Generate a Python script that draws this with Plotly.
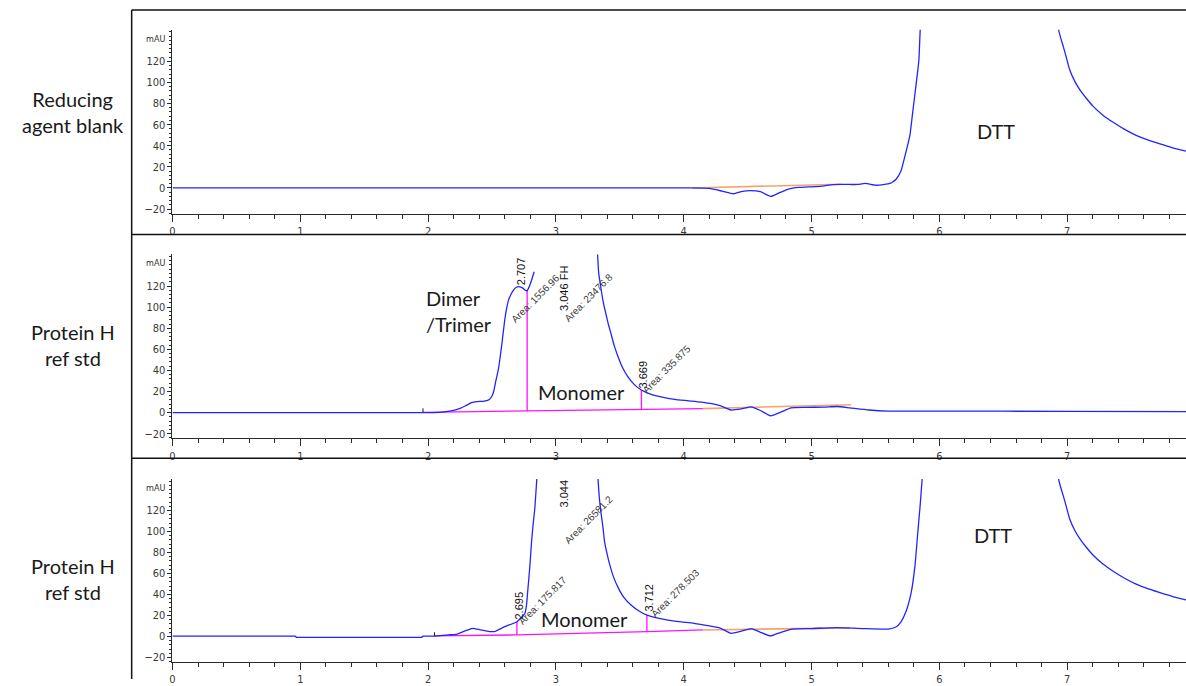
import plotly.graph_objects as go

# ---------------- chromatogram data (time in min, signal in mAU) ----------------
# Reducing agent blank
blank_t = [0.0, 4.05, 4.2, 4.3, 4.39, 4.45, 4.52, 4.6, 4.68, 4.75, 4.82, 4.9, 5.03, 5.1,
           5.15, 5.22, 5.3, 5.36, 5.42, 5.5, 5.56, 5.62, 5.64, 5.66, 5.7, 5.72, 5.745, 5.77,
           5.79, 5.81, 5.83, 5.84, 5.85, 5.86, None,
           6.925, 6.935, 6.95, 6.97, 6.995, 7.02, 7.06, 7.1, 7.15, 7.2, 7.28, 7.36, 7.45,
           7.54, 7.63, 7.72, 7.82, 7.93]
blank_mau = [0.0, 0.0, -0.5, -3.0, -5.5, -3.5, -2.5, -3.5, -8.0, -4.5, -1.0, 0.5, 1.2, 2.0,
             3.0, 3.3, 3.3, 3.3, 4.3, 2.6, 3.1, 4.5, 6.2, 8.0, 16.0, 25.0, 37.0, 50.0,
             70.0, 90.0, 110.0, 121.0, 149.0, 170.0, None,
             165.0, 149.0, 142.0, 134.0, 123.0, 112.0, 101.0, 93.0, 85.0, 77.8, 69.0, 62.2, 55.5,
             49.8, 45.5, 42.0, 38.3, 34.8]

# Protein H ref std (upper)
std1_t = [0.0, 1.96, 2.09, 2.18, 2.25, 2.29, 2.34, 2.38, 2.44, 2.48, 2.5, 2.515, 2.53,
          2.55, 2.575, 2.6, 2.615, 2.63, 2.65, 2.67, 2.69, 2.707, 2.725, 2.744, 2.76,
          2.775, 2.79, 2.81, 2.83, None,
          3.32, 3.335, 3.345, 3.355, 3.37, 3.39, 3.41, 3.43, 3.455, 3.485, 3.52, 3.56,
          3.61, 3.669, 3.72, 3.77, 3.85, 3.93, 4.03, 4.135, 4.22, 4.29,
          4.37, 4.45, 4.53, 4.6, 4.68, 4.76, 4.84, 4.95, 5.1, 5.2, 5.3, 5.45, 5.6,
          6.0, 7.0, 7.93]
std1_mau = [0.0, 0.0, 0.3, 1.6, 4.0, 6.3, 9.4, 10.5, 11.0, 12.5, 15.7, 21.0, 30.0,
            40.9, 62.9, 88.0, 99.0, 106.9, 112.5, 116.3, 118.8, 119.4, 119.0, 117.8, 116.0,
            115.6, 119.0, 125.7, 133.5, None,
            165.0, 132.0, 124.0, 116.0, 105.0, 94.3, 84.0, 75.4, 64.0, 53.4, 43.0, 34.6,
            27.0, 21.4, 18.5, 16.4, 14.2, 12.6, 11.3, 10.0, 8.5, 6.3,
            2.5, 3.5, 5.5, 2.0, -3.0, 0.5, 4.5, 5.0, 5.2, 5.8, 4.5, 2.5, 1.5,
            1.5, 1.2, 1.0]

# Protein H ref std (lower, with reducing agent)
std2_t = [0.0, 0.96, 0.97, 1.95, 1.96, 2.05, 2.16, 2.22, 2.29, 2.35, 2.41, 2.48, 2.52,
          2.6, 2.695, 2.757, 2.77, 2.78, 2.795, 2.81, 2.822, 2.835, 2.85, 2.86, None,
          3.32, 3.33, 3.34, 3.355, 3.37, 3.38, 3.4, 3.42, 3.45, 3.485, 3.53, 3.59, 3.65,
          3.712, 3.79, 3.875, 3.98, 4.08, 4.2, 4.29,
          4.37, 4.45, 4.53, 4.6, 4.68, 4.76, 4.85, 5.0, 5.2, 5.4, 5.6, 5.66, 5.7,
          5.74, 5.78, 5.81, 5.83, 5.85, 5.865, 5.88, None,
          6.925, 6.935, 6.95, 6.97, 6.995, 7.02, 7.06, 7.1, 7.15, 7.2, 7.28, 7.36, 7.45,
          7.54, 7.63, 7.72, 7.82, 7.93]
std2_mau = [0.3, 0.3, -0.8, -0.8, 0.3, 0.3, 1.5, 2.1, 5.3, 7.8, 6.3, 4.7, 4.7,
            9.4, 14.0, 21.9, 30.0, 43.8, 65.0, 90.9, 107.0, 122.0, 149.0, 165.0, None,
            165.0, 149.0, 132.0, 116.0, 102.0, 90.9, 79.0, 69.0, 57.0, 47.0, 37.5, 29.7, 24.2,
            20.3, 17.6, 15.6, 13.9, 12.5, 10.0, 7.8,
            3.0, 5.0, 7.5, 4.0, 0.5, 4.0, 7.0, 7.5, 8.5, 7.5, 7.0, 9.0, 14.0,
            24.0, 42.0, 68.0, 97.0, 125.0, 149.0, 170.0, None,
            165.0, 149.0, 142.0, 134.0, 123.0, 112.0, 101.0, 93.0, 85.0, 77.8, 69.0, 62.2, 55.5,
            49.8, 45.5, 42.0, 38.3, 34.8]

# integration baselines (magenta) and later baseline segments (orange)
std1_base_t = [1.96, 2.775, 3.669, 4.15]
std1_base_mau = [0.3, 1.6, 2.5, 3.8]
std2_base_t = [2.05, 2.695, 3.712, 4.15]
std2_base_mau = [0.5, 1.5, 4.7, 6.2]

blank_seg_t = [4.07, 5.23]
blank_seg_mau = [0.0, 3.5]
std1_seg_t = [4.15, 5.31]
std1_seg_mau = [3.8, 7.5]
std2_seg_t = [4.15, 5.3]
std2_seg_mau = [6.2, 8.2]

# peak drop lines (time, baseline level, signal level)
std1_drop_t = [2.775, 3.669]
std1_drop_lo = [1.6, 2.5]
std1_drop_hi = [115.6, 21.4]
std2_drop_t = [2.695, 3.712]
std2_drop_lo = [1.5, 4.7]
std2_drop_hi = [14.0, 20.3]

# integration start markers
std1_start_t = 1.96
std2_start_t = 2.05

# peak tables
std1_rt = [2.707, 3.046, 3.669]
std1_rt_text = ["2.707", "3.046 FH", "3.669"]
std1_area = [1556.96, 23476.8, 335.875]
std2_rt = [2.695, 3.044, 3.712]
std2_rt_text = ["2.695", "3.044", "3.712"]
std2_area = [175.817, 26581.2, 278.503]

row_titles = ["Reducing<br>agent blank", "Protein H<br>ref std", "Protein H<br>ref std"]
y_ticks = [-20, 0, 20, 40, 60, 80, 100, 120]

# ---------------- styling ----------------
BLUE = "#2323ff"
MAGENTA = "#ff10ff"
ORANGE = "#f4a46a"
AX = "#2a2a2a"
TICK_FONT = dict(family="Liberation Sans Narrow, Arial Narrow, DejaVu Sans Condensed, sans-serif",
                 size=11, color="#3a3a3a")
LABEL_FONT = dict(family="Lato, Open Sans, sans-serif", size=20, color="#1a1a1a")
W, H = 1186, 686

# panel placement in pixels (top, bottom of plot area)
panels_px = [(30, 216), (257, 443), (484, 669)]
x_left_px = 169.9

fig = go.Figure()

def px_y(p):
    return 1 - p / H

for i, (top, bot) in enumerate(panels_px):
    sfx = "" if i == 0 else str(i + 1)
    fig.update_layout({
        f"xaxis{sfx}": dict(domain=[x_left_px / W, 1.0], range=[0, 7.93], anchor=f"y{sfx}",
                            showline=True, linecolor=AX, linewidth=1, ticks="outside",
                            ticklen=7, tickcolor=AX, tickwidth=1, dtick=1, tick0=0,
                            showgrid=False, zeroline=False, tickfont=TICK_FONT,
                            minor=dict(dtick=0.2, ticks="outside", ticklen=4,
                                       tickcolor=AX, showgrid=False)),
        f"yaxis{sfx}": dict(domain=[px_y(bot), px_y(top)], range=[-24.5, 150],
                            anchor=f"x{sfx}", showline=True, linecolor=AX, linewidth=1,
                            ticks="outside", ticklen=4, tickcolor=AX, tickwidth=1,
                            tickvals=y_ticks, showgrid=False, zeroline=False,
                            tickfont=TICK_FONT,
                            minor=dict(dtick=4, tick0=0, ticks="outside", ticklen=2,
                                       tickcolor=AX, showgrid=False)),
    })


def line(x, y, color, ax, width=1.3, smooth=False):
    ln = dict(color=color, width=width)
    if smooth:
        ln.update(shape="spline", smoothing=0.5)
    fig.add_trace(go.Scatter(x=x, y=y, mode="lines", line=ln,
                             connectgaps=False, hoverinfo="skip", showlegend=False,
                             xaxis="x" + ax, yaxis="y" + ax))


def signal(t, mau, ax, t_smooth):
    """Flat leading part drawn straight, the peak region drawn with a spline."""
    k = next(i for i, v in enumerate(t) if v is not None and v >= t_smooth)
    line(t[:k + 1], mau[:k + 1], BLUE, ax)
    line(t[k:], mau[k:], BLUE, ax, smooth=True)


# baselines first, signal on top
line(blank_seg_t, blank_seg_mau, ORANGE, "", 1.6)
signal(blank_t, blank_mau, "", 4.05)

line(std1_base_t, std1_base_mau, MAGENTA, "2")
line(std1_seg_t, std1_seg_mau, ORANGE, "2", 1.6)
for t, lo, hi in zip(std1_drop_t, std1_drop_lo, std1_drop_hi):
    line([t, t], [lo, hi], MAGENTA, "2")
line([std1_start_t, std1_start_t], [0, 4], "#111111", "2", 1)
signal(std1_t, std1_mau, "2", 1.96)

line(std2_base_t, std2_base_mau, MAGENTA, "3")
line(std2_seg_t, std2_seg_mau, ORANGE, "3", 1.6)
for t, lo, hi in zip(std2_drop_t, std2_drop_lo, std2_drop_hi):
    line([t, t], [lo, hi], MAGENTA, "3")
line([std2_start_t, std2_start_t], [0, 4], "#111111", "3", 1)
signal(std2_t, std2_mau, "3", 2.05)

ann = []

# "mAU" unit label at the top of each signal axis
for sfx in ["", "2", "3"]:
    ann.append(dict(text="mAU", x=(x_left_px - 5) / W, xref="paper", y=141.5, yref="y" + sfx,
                    xanchor="right", yanchor="middle", showarrow=False,
                    font=dict(family=TICK_FONT["family"], size=9, color="#333")))

# row titles on the left
for title, (top, bot) in zip(row_titles, [(100, 127), (336, 362), (572, 598)]):
    ann.append(dict(text=title, x=70 / W, xref="paper", y=px_y((top + bot) / 2), yref="paper",
                    xanchor="center", yanchor="middle", showarrow=False, align="center",
                    font=LABEL_FONT))

# retention time / area labels (label centres in data units)
rt_font = dict(family="Liberation Sans, Arial, sans-serif", size=11, color="#111")
area_font = dict(family="Liberation Sans, Arial, sans-serif", size=10, color="#3c3c3c")
std1_rt_lab_y = [134.5, 118.0, 36.5]
std1_area_lab = [(2.84, 108.0), (3.257, 109.0), (3.862, 41.0)]
std2_rt_lab_y = [29.4, 135.8, 37.0]
std2_area_lab = [(2.895, 34.2), (3.257, 111.3), (3.932, 40.8)]

for sfx, rts, texts, areas, rty, alab in [
        ("2", std1_rt, std1_rt_text, std1_area, std1_rt_lab_y, std1_area_lab),
        ("3", std2_rt, std2_rt_text, std2_area, std2_rt_lab_y, std2_area_lab)]:
    for rt, txt, area, ly, (ax_, ay_) in zip(rts, texts, areas, rty, alab):
        ann.append(dict(text=txt, x=rt, y=ly, xref="x" + sfx, yref="y" + sfx, xshift=2,
                        textangle=-90, showarrow=False, xanchor="center", yanchor="middle",
                        font=rt_font))
        ann.append(dict(text=f"Area: {area:g}", x=ax_, y=ay_, xref="x" + sfx, yref="y" + sfx,
                        textangle=-45, showarrow=False, xanchor="center", yanchor="middle",
                        font=area_font))

# peak group names
ann.append(dict(text="DTT", x=6.44, y=54, xref="x", yref="y", showarrow=False, font=LABEL_FONT))
ann.append(dict(text="Dimer<br>/Trimer", x=1.97, y=96, xref="x2", yref="y2", showarrow=False,
                xanchor="left", align="left", font=LABEL_FONT))
ann.append(dict(text="Monomer", x=3.2, y=20, xref="x2", yref="y2", showarrow=False,
                font=LABEL_FONT))
ann.append(dict(text="Monomer", x=3.22, y=16.5, xref="x3", yref="y3", showarrow=False,
                font=LABEL_FONT))
ann.append(dict(text="DTT", x=6.42, y=97, xref="x3", yref="y3", showarrow=False,
                font=LABEL_FONT))

# table frame around the three rows
frame = dict(type="line", xref="paper", yref="paper", line=dict(color="#111", width=1.5))
shapes = [
    dict(frame, x0=129 / W, x1=129 / W, y0=0, y1=px_y(10)),
    dict(frame, x0=129 / W, x1=1, y0=px_y(10), y1=px_y(10)),
    dict(frame, x0=129 / W, x1=1, y0=px_y(237), y1=px_y(237)),
    dict(frame, x0=129 / W, x1=1, y0=px_y(463), y1=px_y(463)),
]

fig.update_layout(width=W, height=H, autosize=False,
                  margin=dict(l=0, r=0, t=0, b=0, pad=0),
                  paper_bgcolor="white", plot_bgcolor="white",
                  showlegend=False, annotations=ann, shapes=shapes)

fig.write_html("out.html", config={"displayModeBar": False})
